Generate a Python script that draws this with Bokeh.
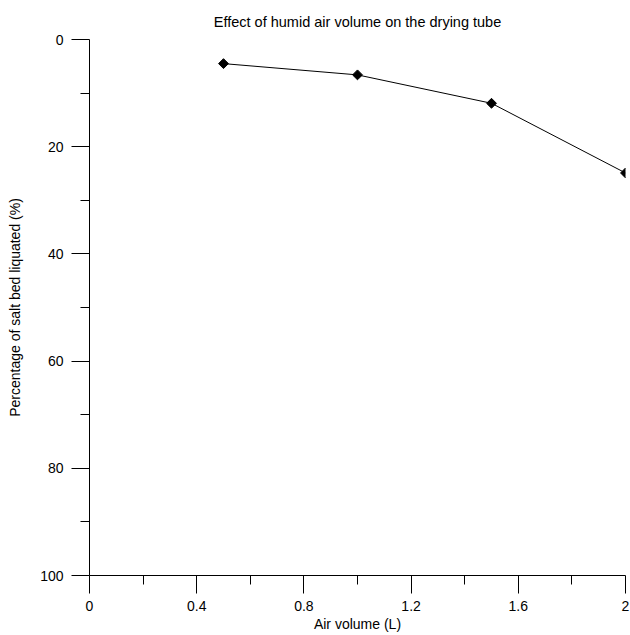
from bokeh.plotting import figure
from bokeh.models import Range1d, FixedTicker, PrintfTickFormatter
from bokeh.embed import file_html
from bokeh.resources import INLINE

# Data
air_volume = [0.5, 1.0, 1.5, 2.0]
liquated_pct = [4.5, 6.6, 11.9, 24.9]

x_ticks = [0, 0.4, 0.8, 1.2, 1.6, 2]
x_minor_ticks = [0.2, 0.6, 1.0, 1.4, 1.8]
y_ticks = [0, 20, 40, 60, 80, 100]
y_minor_ticks = [10, 30, 50, 70, 90]

FONT = "Liberation Sans"

p = figure(
    width=630, height=635,
    x_range=Range1d(0, 2), y_range=Range1d(100, 0),
    output_backend="svg", toolbar_location=None,
    title="Effect of humid air volume on the drying tube",
    min_border_left=89, min_border_right=5, min_border_top=39, min_border_bottom=60,
)
p.outline_line_color = None
p.background_fill_color = "white"
p.border_fill_color = "white"
p.grid.visible = False

p.title.align = "center"
p.title.text_font = FONT
p.title.text_font_size = "14.5px"
p.title.text_font_style = "normal"
p.title.text_color = "black"
p.title.standoff = 20

for ax, ticks, minor in ((p.xaxis[0], x_ticks, x_minor_ticks), (p.yaxis[0], y_ticks, y_minor_ticks)):
    ax.ticker = FixedTicker(ticks=ticks, minor_ticks=minor)
    ax.formatter = PrintfTickFormatter(format="%g")
    ax.axis_line_color = "black"
    ax.major_tick_line_color = "black"
    ax.minor_tick_line_color = "black"
    ax.major_tick_out = 18
    ax.major_tick_in = 0
    ax.minor_tick_out = 9
    ax.minor_tick_in = 0
    ax.major_label_text_font = FONT
    ax.major_label_text_font_size = "14px"
    ax.major_label_text_color = "black"
    ax.axis_label_text_font = FONT
    ax.axis_label_text_font_size = "14px"
    ax.axis_label_text_font_style = "normal"
    ax.axis_label_text_color = "black"

p.xaxis.axis_label = "Air volume (L)"
p.yaxis.axis_label = "Percentage of salt bed liquated (%)"
p.xaxis.major_label_standoff = 7
p.yaxis.major_label_standoff = 8
p.xaxis.axis_label_standoff = 2
p.yaxis.axis_label_standoff = 14

p.line(air_volume, liquated_pct, line_color="black", line_width=1)
p.scatter(air_volume, liquated_pct, marker="square", angle=0.7854, size=7,
          fill_color="black", line_color="black")

open("out.html", "w").write(file_html(p, INLINE))
